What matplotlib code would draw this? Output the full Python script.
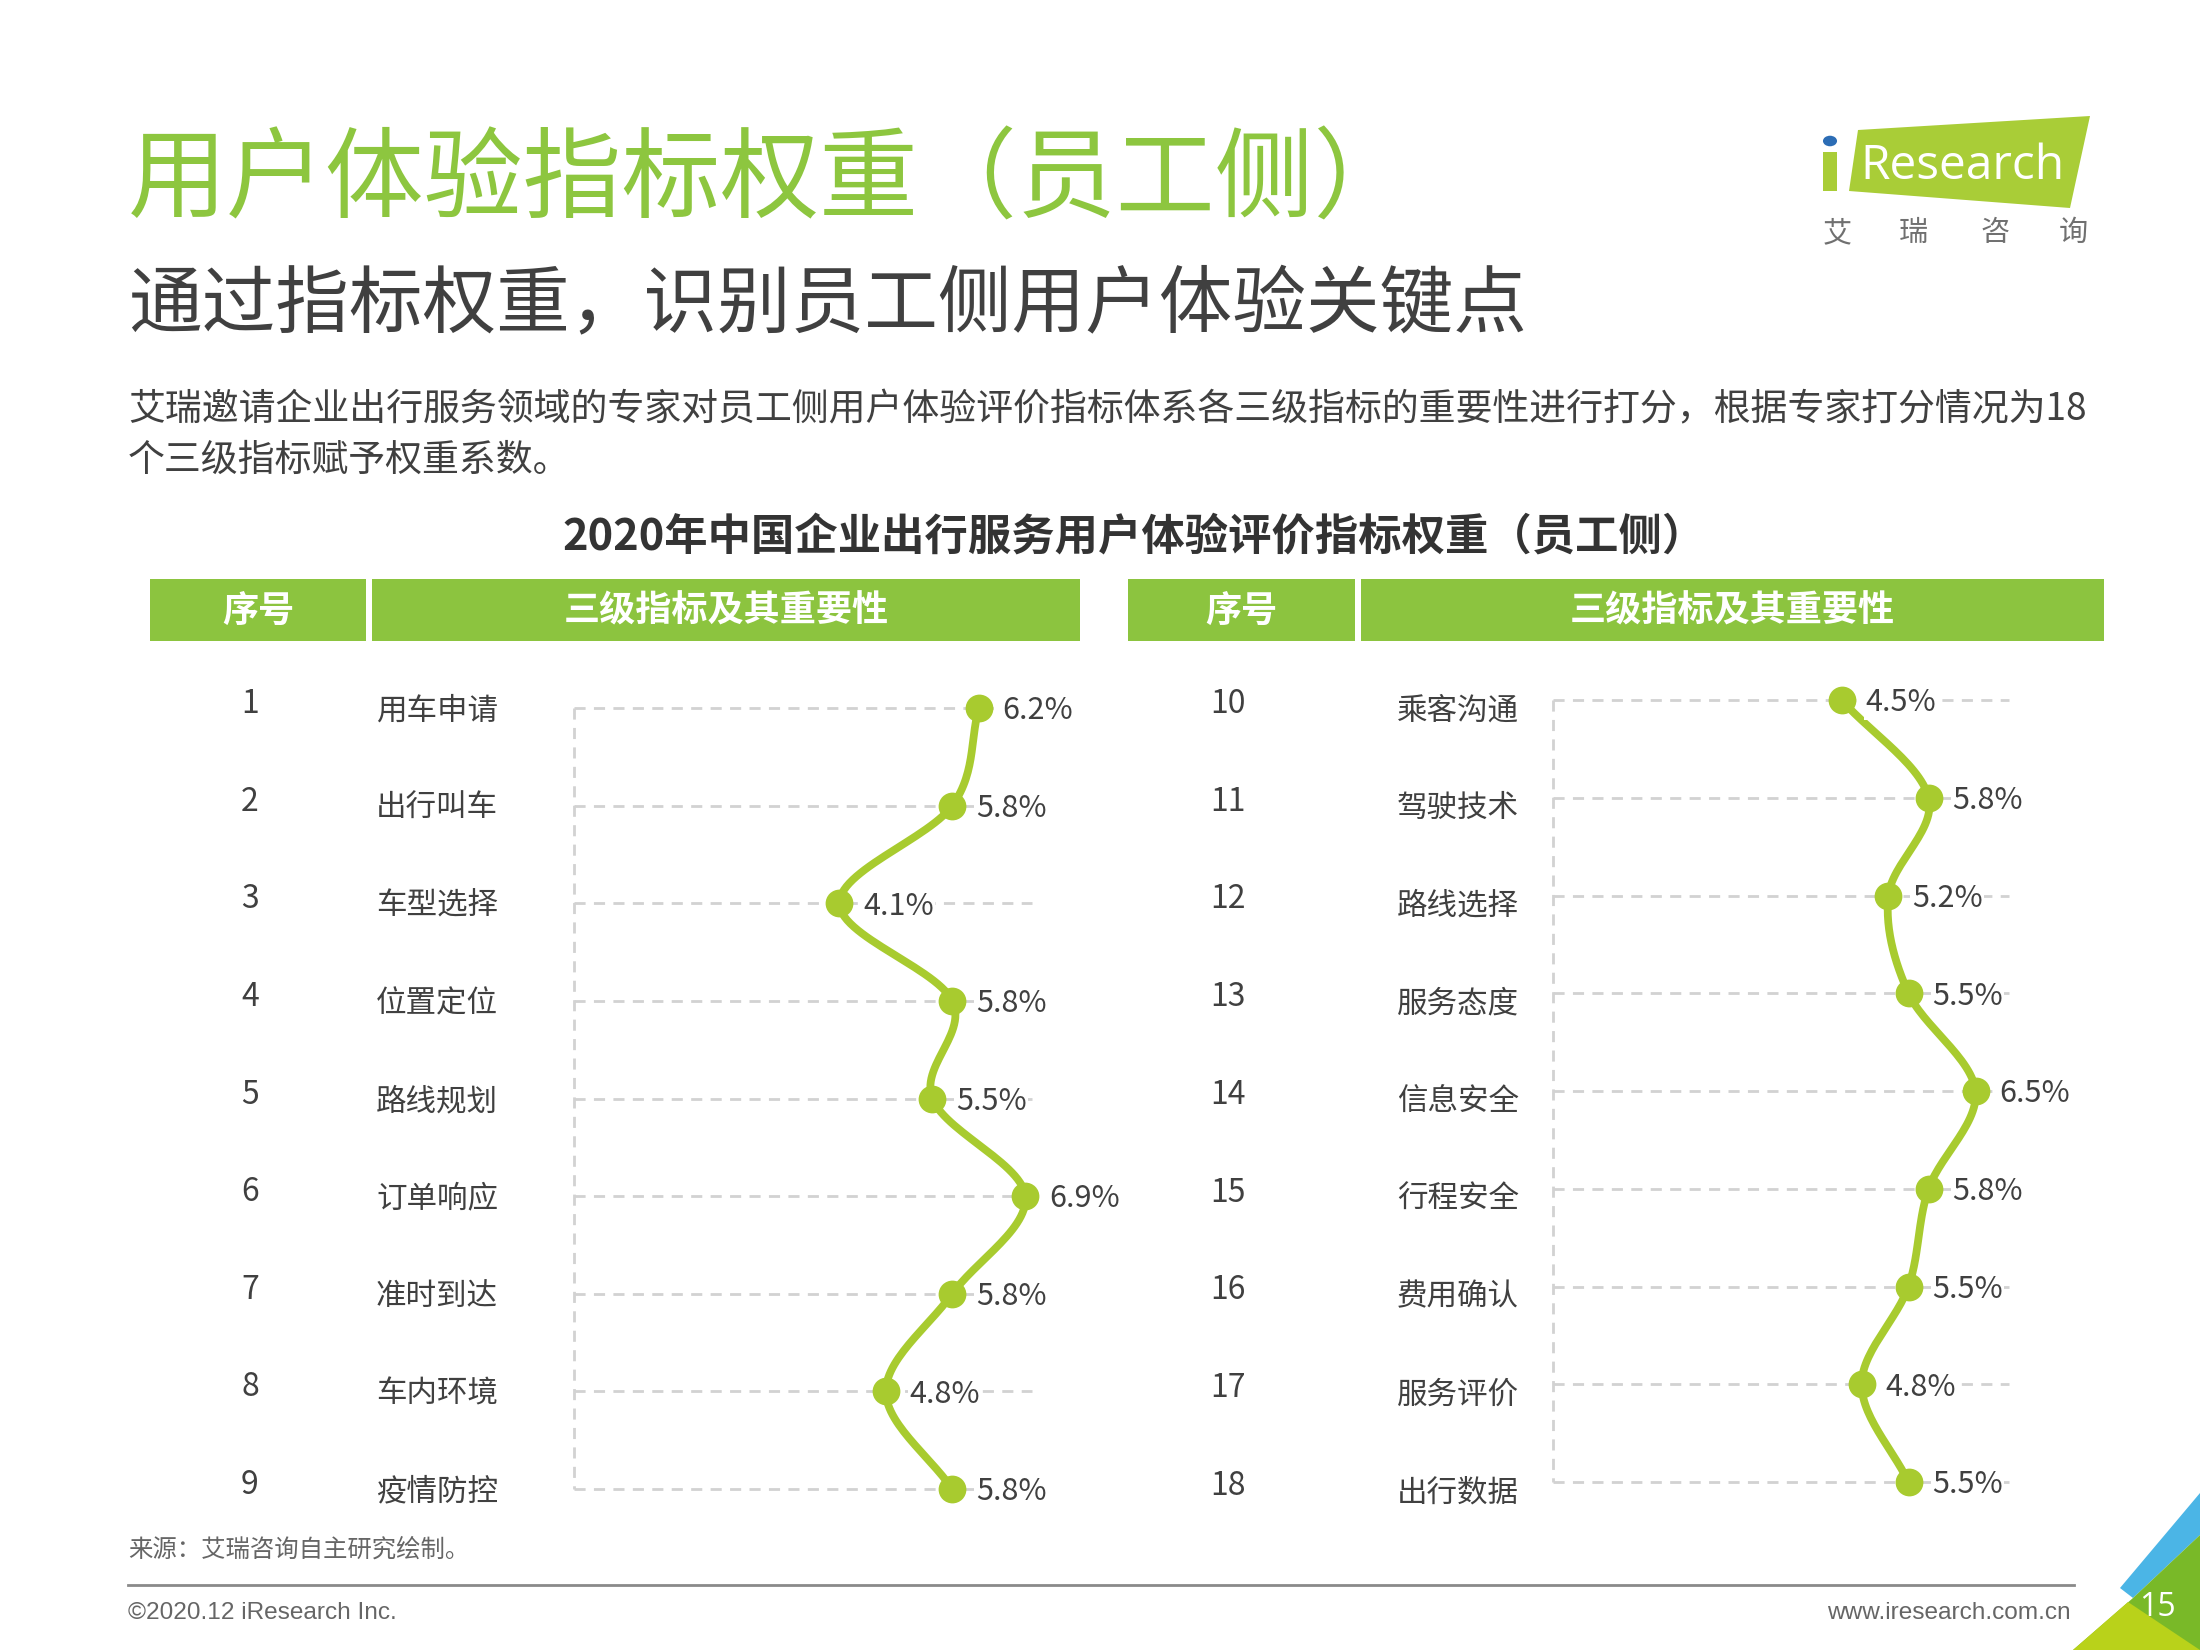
import numpy as np
import matplotlib
matplotlib.use("Agg")
import matplotlib.pyplot as plt
from matplotlib.patches import Polygon, Rectangle, Circle
from matplotlib.transforms import blended_transform_factory

plt.rcParams['font.family'] = ['Noto Sans CJK SC', 'DejaVu Sans']

# ---------------- data ----------------
left_ids = ["1", "2", "3", "4", "5", "6", "7", "8", "9"]
left_names = ["用车申请", "出行叫车", "车型选择", "位置定位", "路线规划", "订单响应", "准时到达", "车内环境", "疫情防控"]
left_values = [6.2, 5.8, 4.1, 5.8, 5.5, 6.9, 5.8, 4.8, 5.8]

right_ids = ["10", "11", "12", "13", "14", "15", "16", "17", "18"]
right_names = ["乘客沟通", "驾驶技术", "路线选择", "服务态度", "信息安全", "行程安全", "费用确认", "服务评价", "出行数据"]
right_values = [4.5, 5.8, 5.2, 5.5, 6.5, 5.8, 5.5, 4.8, 5.5]

header_cols = ["序号", "三级指标及其重要性"]

title = "用户体验指标权重（员工侧）"
subtitle = "通过指标权重，识别员工侧用户体验关键点"
para1 = "艾瑞邀请企业出行服务领域的专家对员工侧用户体验评价指标体系各三级指标的重要性进行打分，根据专家打分情况为18"
para2 = "个三级指标赋予权重系数。"
chart_title = "2020年中国企业出行服务用户体验评价指标权重（员工侧）"
source = "来源：艾瑞咨询自主研究绘制。"

# ---------------- figure ----------------
W, H = 2200, 1650
fig = plt.figure(figsize=(11, 8.25), dpi=200)
fig.patch.set_facecolor("white")


def fx(px):
    return px / W


def fy(py):
    return 1 - py / H


GREEN_T = "#8DC63F"
GREEN_H = "#8CC43F"
LINE_C = "#A8CB2F"
TXT = "#404040"

# titles
fig.text(fx(128), fy(183), title, fontsize=35.6, color=GREEN_T, va="center", ha="left")
fig.text(fx(128), fy(306), subtitle, fontsize=26.5, color=TXT, va="center", ha="left")
fig.text(fx(128), fy(410), para1, fontsize=13.3, color=TXT, va="center", ha="left")
fig.text(fx(128), fy(460), para2, fontsize=13.3, color=TXT, va="center", ha="left")
fig.text(fx(1134), fy(537), chart_title, fontsize=15.6, color="#333333", va="center",
         ha="center", fontweight="bold")

# header bars
bars = [(150, 366, header_cols[0]), (372, 1080, header_cols[1]),
        (1128, 1355, header_cols[0]), (1361, 2104, header_cols[1])]
for x0, x1, t in bars:
    fig.patches.append(Rectangle((fx(x0), fy(641)), fx(x1) - fx(x0), fy(579) - fy(641),
                                 transform=fig.transFigure, facecolor=GREEN_H, edgecolor="none"))
    fig.text(fx((x0 + x1) / 2), fy(611), t, fontsize=13, color="white", fontweight="bold",
             ha="center", va="center")


def smooth(vals):
    """Catmull-Rom style smoothing of x as a function of row index."""
    v = np.asarray(vals, dtype=float)
    n = len(v)
    m = np.zeros(n)
    m[1:-1] = (v[2:] - v[:-2]) / 2
    m[0] = v[1] - v[0]
    m[-1] = v[-1] - v[-2]
    xs, ys = [], []
    for i in range(n - 1):
        t = np.linspace(0, 1, 30)
        h00 = 2 * t**3 - 3 * t**2 + 1
        h10 = t**3 - 2 * t**2 + t
        h01 = -2 * t**3 + 3 * t**2
        h11 = t**3 - t**2
        xs.append(h00 * v[i] + h10 * m[i] + h01 * v[i + 1] + h11 * m[i + 1])
        ys.append(i + t)
    return np.concatenate(xs), np.concatenate(ys)


def panel(x0_px, x1_px, top_px, bot_px, grid_start, ids, names, vals, id_x, name_x, text_off):
    ax = fig.add_axes([fx(x0_px), fy(bot_px), fx(x1_px) - fx(x0_px), fy(top_px) - fy(bot_px)])
    ax.set_xlim(0, 7)
    n = len(vals)
    ax.set_ylim(n - 1, 0)
    ax.axis("off")
    rows = np.arange(n)
    dash = (0, (4, 3))
    for r in rows:
        ax.plot([grid_start, 7], [r, r], color="#D2D2D2", lw=1.0, linestyle=dash,
                zorder=1, clip_on=False)
    ax.plot([grid_start, grid_start], [0, n - 1], color="#D2D2D2", lw=1.0,
            linestyle=dash, zorder=1, clip_on=False)
    sx, sy = smooth(vals)
    ax.plot(sx, sy, color=LINE_C, lw=2.8, zorder=3, clip_on=False, solid_capstyle="round")
    ax.plot(vals, rows, "o", color=LINE_C, ms=9, zorder=4, clip_on=False)
    for r, v in zip(rows, vals):
        ax.annotate(f"{v:.1f}%", (v, r), xytext=(8.5, -1), textcoords="offset points",
                    fontsize=11, color=TXT, va="center", ha="left", zorder=5,
                    bbox=dict(boxstyle="square,pad=0.05", fc="white", ec="none"))
    tr = blended_transform_factory(fig.transFigure, ax.transData)
    for r, i_, nm in zip(rows, ids, names):
        ax.text(fx(id_x), r - text_off - 0.04, i_, transform=tr, fontsize=11.5, color=TXT,
                ha="center", va="center", clip_on=False)
        ax.text(fx(name_x), r - text_off + 0.03, nm, transform=tr, fontsize=11, color=TXT,
                ha="left", va="center", clip_on=False)
    return ax


panel(567, 1032, 708, 1489, 0.1, left_ids, left_names, left_values, 250, 376, 0.0)
panel(1540, 2009, 700, 1482, 0.2, right_ids, right_names, right_values, 1228, 1397, -0.08)

# source / footer
fig.text(fx(128), fy(1550), source, fontsize=8.8, color="#666666", ha="left", va="center")
fig.add_artist(plt.Line2D([fx(128), fx(2074)], [fy(1585), fy(1585)], color="#8A8A8A", lw=1.0))
fig.text(fx(128), fy(1613), "©2020.12 iResearch Inc.", fontsize=8.8, color="#666666",
         ha="left", va="center", family=["Liberation Sans", "DejaVu Sans"])
fig.text(fx(2071), fy(1613), "www.iresearch.com.cn", fontsize=8.8, color="#666666",
         ha="right", va="center", family=["Liberation Sans", "DejaVu Sans"])

# corner decoration
def poly(pts, color):
    fig.patches.append(Polygon([(fx(a), fy(b)) for a, b in pts], closed=True,
                               transform=fig.transFigure, facecolor=color, edgecolor="none"))


poly([(2120, 1588), (2200, 1493), (2200, 1535), (2133, 1598)], "#4BB5E6")
poly([(2133, 1598), (2200, 1535), (2200, 1650), (2073, 1650)], "#79B928")
poly([(2073, 1650), (2128, 1602), (2200, 1650)], "#B9D21A")
fig.text(fx(2157), fy(1607), "15", fontsize=11.5, color="white", ha="center", va="center",
         family=["Open Sans", "DejaVu Sans"])

# logo
poly([(1858, 130), (2090, 116), (2070, 208), (1849, 191)], "#A9CD37")
fig.patches.append(Rectangle((fx(1823), fy(191)), fx(14), fy(152) - fy(191),
                             transform=fig.transFigure, facecolor="#A9CD37", edgecolor="none"))
fig.patches.append(Circle((fx(1830), fy(141)), 0.0032, transform=fig.transFigure,
                          facecolor="#2C6DB5", edgecolor="none"))
fig.text(fx(1860), fy(166), "Research", fontsize=17.2, color="white", ha="left", va="center",
         family=["Open Sans", "DejaVu Sans"])
for cx, ch in zip([1837, 1913, 1995, 2073], "艾瑞咨询"):
    fig.text(fx(cx), fy(233), ch, fontsize=10.5, color="#707070", ha="center", va="center")

fig.savefig("out.png", dpi=200, facecolor="white")
